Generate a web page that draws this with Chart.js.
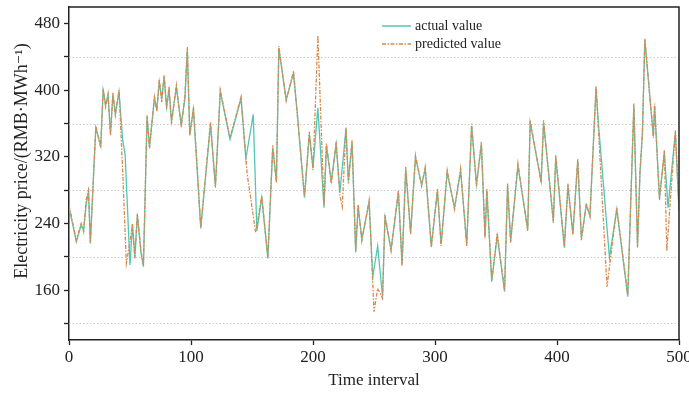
<!DOCTYPE html>
<html>
<head>
<meta charset="utf-8">
<script src="https://cdn.jsdelivr.net/npm/chart.js@4.4.0/dist/chart.umd.min.js"></script>
<style>
  html, body { margin: 0; padding: 0; background: #fff; }
  #wrap { width: 689px; height: 393px; }
</style>
</head>
<body>
<div id="wrap"><canvas id="price-chart"></canvas></div>
<script>
// Turning points of the two price series (time interval, RMB/MWh)
const actualT = [0, 6, 10, 12, 14, 16, 17.5, 22, 26, 28, 30, 32, 34, 36, 38, 41, 44, 46, 50, 52, 54, 56, 59, 61, 64, 66, 70, 72, 74, 76, 78, 80, 82, 84, 88, 92, 95, 97, 99, 102, 108, 116, 120, 124, 132, 141, 145, 151, 154, 158, 163, 167, 170, 172, 178, 184, 187, 193, 197, 200, 204, 209, 211, 215, 219, 222, 227, 229, 232, 235, 237, 240, 246, 249, 253, 257, 259, 264, 270, 273, 276, 280, 284, 289, 292, 297, 302, 305, 310, 316, 321, 326, 330, 334, 338, 341, 342.5, 346.5, 351, 357, 359.5, 362, 368, 376, 378, 387, 389, 397, 399, 406, 409, 413, 417, 420, 424, 427, 432, 434, 443, 449, 458, 463, 466, 468, 470, 472, 479, 480, 484, 488, 491, 497, 500];
const actualPrice = [260, 218, 238, 232, 262, 278, 216, 355, 333, 400, 383, 394, 348, 395, 372, 398, 340, 323, 190, 238, 200, 250, 205, 188, 368, 332, 390, 378, 410, 390, 416, 380, 400, 363, 403, 359, 390, 448, 347, 377, 234, 359, 285, 398, 341, 390, 318, 371, 231, 271, 198, 331, 291, 450, 389, 420, 375, 271, 347, 307, 379, 259, 333, 291, 335, 277, 353, 291, 337, 205, 261, 221, 265, 176, 213, 152, 247, 209, 277, 191, 305, 229, 319, 287, 305, 213, 279, 215, 301, 259, 303, 215, 357, 287, 335, 224, 279, 170, 225, 158, 285, 219, 309, 233, 361, 291, 361, 243, 319, 211, 285, 228, 315, 222, 262, 250, 402, 359, 199, 257, 152, 381, 213, 300, 349, 460, 345, 381, 270, 325, 259, 349, 255];

const predictedT = [0, 6, 10, 12, 14, 16, 17.5, 22, 26, 28, 30, 32, 34, 36, 38, 41, 44, 47, 50, 52, 54, 56, 59, 61, 64, 66, 70, 72, 74, 76, 78, 80, 82, 84, 88, 92, 95, 97, 99, 102, 108, 116, 120, 124, 132, 141, 146, 153, 158, 163, 167, 170, 172, 178, 184, 187, 193, 197, 200, 204, 209, 211, 215, 219, 222, 224, 227, 229, 232, 235, 237, 240, 246, 250, 253, 257, 259, 264, 270, 273, 276, 280, 284, 289, 292, 297, 302, 305, 310, 316, 321, 326, 330, 334, 338, 341, 342.5, 346.5, 351, 357, 359.5, 362, 368, 376, 378, 387, 389, 397, 399, 406, 409, 413, 417, 420, 424, 427, 432, 441, 449, 458, 463, 466, 468, 470, 472, 479, 480, 484, 488, 490, 497, 500];
const predictedPrice = [262, 220, 240, 230, 268, 280, 218, 357, 331, 402, 380, 396, 346, 397, 370, 400, 303, 192, 218, 240, 198, 252, 207, 190, 370, 330, 392, 375, 413, 386, 418, 378, 404, 360, 406, 356, 393, 452, 345, 380, 236, 362, 283, 400, 343, 392, 300, 229, 273, 200, 334, 289, 453, 387, 423, 372, 273, 350, 304, 466, 262, 336, 288, 338, 274, 260, 356, 288, 340, 207, 263, 219, 268, 134, 162, 150, 250, 207, 280, 189, 308, 227, 322, 285, 308, 211, 282, 213, 304, 257, 306, 213, 360, 285, 338, 222, 282, 172, 228, 160, 288, 217, 312, 231, 364, 289, 364, 241, 322, 213, 288, 226, 318, 220, 264, 248, 405, 164, 259, 154, 384, 211, 302, 346, 462, 343, 384, 268, 328, 207, 352, 258];

// Axis ticks: labelled majors and the dotted minor levels between them
const yMajorTicks = [160, 240, 320, 400, 480];
const yMinorTicks = [120, 200, 280, 360, 440];
const xTicks = [0, 100, 200, 300, 400, 500];

const tealColor = '#52c6b6';
const orangeColor = '#d98a4c';
const inkColor = '#222';
const serif = "'Liberation Serif', 'DejaVu Serif', serif";
const yTitle = 'Electricity price/(RMB·MWh⁻¹)';

const toPoints = (ts, vs) => ts.map((t, i) => ({ x: t, y: vs[i] }));

// Dotted horizontal guides, the top/right frame edges and the y title
const framePlugin = {
  id: 'frame',
  beforeDatasetsDraw(chart) {
    const { ctx, chartArea, scales } = chart;
    ctx.save();
    ctx.strokeStyle = '#c8c8c8';
    ctx.lineWidth = 1;
    ctx.setLineDash([1.5, 2]);
    yMinorTicks.forEach((v) => {
      const y = Math.round(scales.y.getPixelForValue(v)) + 0.5;
      ctx.beginPath();
      ctx.moveTo(chartArea.left, y);
      ctx.lineTo(chartArea.right, y);
      ctx.stroke();
    });
    ctx.restore();
  },
  afterDraw(chart) {
    const { ctx, chartArea } = chart;
    ctx.save();
    ctx.strokeStyle = inkColor;
    ctx.lineWidth = 1.5;
    ctx.beginPath();
    ctx.moveTo(chartArea.left, chartArea.top);
    ctx.lineTo(chartArea.right, chartArea.top);
    ctx.lineTo(chartArea.right, chartArea.bottom);
    ctx.stroke();

    // rotated axis title, sitting a little above the plot's middle
    ctx.translate(22, 161);
    ctx.rotate(-Math.PI / 2);
    ctx.font = '18px ' + serif;
    ctx.fillStyle = inkColor;
    ctx.textAlign = 'center';
    ctx.textBaseline = 'middle';
    ctx.fillText(yTitle, 0, 0);
    ctx.restore();
  }
};

// Legend drawn inside the plot, near the top middle
const legendPlugin = {
  id: 'innerLegend',
  afterDraw(chart) {
    const { ctx } = chart;
    const entries = [
      { label: 'actual value', color: tealColor, dash: [] },
      { label: 'predicted value', color: orangeColor, dash: [4, 1.5, 1.5, 1.5] }
    ];
    ctx.save();
    ctx.font = '14px ' + serif;
    ctx.textBaseline = 'middle';
    entries.forEach((e, i) => {
      const y = 26 + i * 18;
      ctx.strokeStyle = e.color;
      ctx.lineWidth = 1.5;
      ctx.setLineDash(e.dash);
      ctx.beginPath();
      ctx.moveTo(382, y);
      ctx.lineTo(411, y);
      ctx.stroke();
      ctx.fillStyle = inkColor;
      ctx.fillText(e.label, 415, y);
    });
    ctx.restore();
  }
};

new Chart(document.getElementById('price-chart'), {
  type: 'line',
  data: {
    datasets: [
      {
        label: 'actual value',
        data: toPoints(actualT, actualPrice),
        borderColor: tealColor,
        borderWidth: 1.3,
        pointRadius: 0,
        tension: 0,
        order: 1
      },
      {
        label: 'predicted value',
        data: toPoints(predictedT, predictedPrice),
        borderColor: orangeColor,
        borderWidth: 1.3,
        borderDash: [4, 1.5, 1.5, 1.5],
        pointRadius: 0,
        tension: 0,
        order: 0
      }
    ]
  },
  options: {
    responsive: true,
    maintainAspectRatio: false,
    animation: false,
    layout: { padding: { top: 7, right: 10, left: 0, bottom: 0 } },
    plugins: {
      legend: { display: false },
      tooltip: { enabled: false }
    },
    scales: {
      x: {
        type: 'linear',
        min: 0,
        max: 500,
        afterBuildTicks: (scale) => { scale.ticks = xTicks.map((v) => ({ value: v })); },
        afterFit: (scale) => {
          scale.height = 53;
          scale.paddingLeft = 0;
          scale.paddingRight = 0;
        },
        ticks: {
          color: inkColor,
          font: { family: serif, size: 17 },
          padding: 2,
          maxRotation: 0
        },
        grid: {
          drawOnChartArea: false,
          drawTicks: true,
          tickLength: 5,
          tickColor: inkColor,
          tickWidth: 1.3
        },
        border: { color: inkColor, width: 1.5 },
        title: {
          display: true,
          text: 'Time interval',
          color: inkColor,
          font: { family: serif, size: 17 },
          padding: { top: 0, bottom: 2 }
        }
      },
      y: {
        min: 100,
        max: 500,
        afterBuildTicks: (scale) => {
          scale.ticks = yMinorTicks.concat(yMajorTicks).sort((a, b) => a - b).map((v) => ({ value: v }));
        },
        afterFit: (scale) => {
          scale.width = 69;
          scale.paddingTop = 0;
          scale.paddingBottom = 0;
        },
        ticks: {
          color: inkColor,
          font: { family: serif, size: 17 },
          padding: 4,
          callback: (v) => (yMajorTicks.includes(v) ? String(v) : '')
        },
        grid: {
          drawOnChartArea: false,
          drawTicks: true,
          tickLength: 5,
          tickColor: inkColor,
          tickWidth: 1.3
        },
        border: { color: inkColor, width: 1.5 }
      }
    }
  },
  plugins: [framePlugin, legendPlugin]
});
</script>
</body>
</html>
